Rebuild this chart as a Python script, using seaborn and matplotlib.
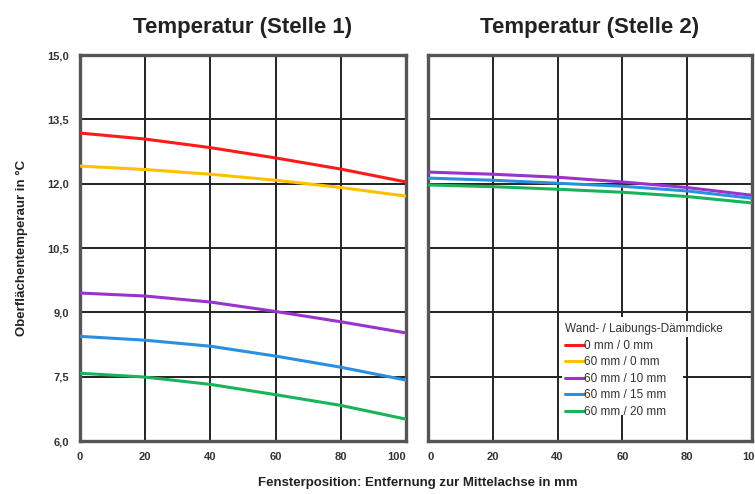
import pandas as pd
import numpy as np
import matplotlib
matplotlib.use("Agg")
import matplotlib.pyplot as plt
import seaborn as sns
from matplotlib.ticker import FuncFormatter
from matplotlib.patches import Rectangle

# Positions along the window axis (mm)
pos = [0, 20, 40, 60, 80, 100]

series = ["0 mm / 0 mm", "60 mm / 0 mm", "60 mm / 10 mm", "60 mm / 15 mm", "60 mm / 20 mm"]
colors = ["#ff1a1a", "#ffc000", "#9933cc", "#2b8fe0", "#19b35a"]

# Stelle 1
s1_red = [13.18, 13.04, 12.84, 12.60, 12.34, 12.04]
s1_yellow = [12.41, 12.33, 12.22, 12.08, 11.91, 11.71]
s1_purple = [9.45, 9.38, 9.24, 9.02, 8.78, 8.52]
s1_blue = [8.44, 8.35, 8.21, 7.98, 7.72, 7.42]
s1_green = [7.58, 7.49, 7.32, 7.08, 6.83, 6.51]

# Stelle 2 (only the insulated variants are visible)
s2_purple = [12.27, 12.22, 12.15, 12.04, 11.91, 11.73]
s2_blue = [12.13, 12.08, 12.01, 11.94, 11.83, 11.66]
s2_green = [11.97, 11.93, 11.87, 11.80, 11.70, 11.55]

yticks = [6.0, 7.5, 9.0, 10.5, 12.0, 13.5, 15.0]
xticks = [0, 20, 40, 60, 80, 100]


def to_long(values, names):
    rows = []
    for vals, name in zip(values, names):
        for x, y in zip(pos, vals):
            rows.append({"pos": x, "temp": y, "variant": name})
    return pd.DataFrame(rows)


df1 = to_long([s1_red, s1_yellow, s1_purple, s1_blue, s1_green], series)
df2 = to_long([s2_purple, s2_blue, s2_green], series[2:])

sns.set_style("white")
plt.rcParams["font.family"] = ["Liberation Sans Narrow", "Liberation Sans", "DejaVu Sans"]

fig = plt.figure(figsize=(7.55, 4.94), dpi=100)
ax1 = fig.add_axes([80 / 755, 53 / 494, 326 / 755, 386 / 494])
ax2 = fig.add_axes([428 / 755, 53 / 494, 324 / 755, 386 / 494])

palette = dict(zip(series, colors))
sns.lineplot(data=df1, x="pos", y="temp", hue="variant", palette=palette, linewidth=2.2,
             legend=False, ax=ax1, zorder=3)
sns.lineplot(data=df2, x="pos", y="temp", hue="variant", palette=palette, linewidth=2.2,
             legend=False, ax=ax2, zorder=3)

comma = FuncFormatter(lambda v, p: f"{v:.1f}".replace(".", ","))
for ax, title in [(ax1, "Temperatur (Stelle 1)"), (ax2, "Temperatur (Stelle 2)")]:
    ax.set_xlim(0, 100)
    ax.set_ylim(6, 15)
    ax.set_xticks(xticks)
    ax.set_yticks(yticks)
    ax.grid(True, color="#222222", linewidth=1.4)
    ax.set_axisbelow(True)
    for sp in ax.spines.values():
        sp.set_color("#555555")
        sp.set_linewidth(2.4)
    ax.tick_params(length=0, labelsize=8, pad=8, colors="#333333")
    for lab in ax.get_xticklabels() + ax.get_yticklabels():
        lab.set_fontweight("bold")
    ax.set_xlabel("")
    ax.set_ylabel("")
    ax.set_title(title, fontsize=16, fontweight="bold", pad=16, color="#222222")

ax1.yaxis.set_major_formatter(comma)
ax2.set_yticklabels([])

# first/last x labels sit flush with the frame like in the original
ax1.get_xticklabels()[-1].set_ha("right")
ax2.get_xticklabels()[0].set_ha("left")

ax1.set_ylabel("Oberflächentemperaur in °C", fontsize=9.5, fontweight="bold",
               labelpad=14, color="#222222")

fig.text(418 / 755, 1 - 483 / 494, "Fensterposition: Entfernung zur Mittelachse in mm",
         ha="center", va="center", fontsize=9.5, fontweight="bold", color="#222222")

# white patch behind the legend that hides part of the grid
ax2.add_patch(Rectangle((0.415, 0.067), 0.372, 0.254, transform=ax2.transAxes,
                        facecolor="white", edgecolor="none", zorder=2))

handles = [plt.Line2D([0], [0], color=c, linewidth=2.2) for c in colors]
leg = ax2.legend(handles, series, title="Wand- / Laibungs-Dämmdicke", loc="upper left",
                 bbox_to_anchor=(0.423, 0.305), frameon=False, fontsize=8.5, title_fontsize=8.5,
                 handlelength=1.6, handletextpad=0.0, labelspacing=0.38, borderpad=0.0,
                 borderaxespad=0.0)
leg._legend_box.align = "left"
leg.set_zorder(5)
for t in leg.get_texts():
    t.set_color("#333333")
leg.get_title().set_color("#333333")
leg.get_title().set_bbox(dict(facecolor="white", edgecolor="none", pad=1.5))

fig.savefig("out.png", dpi=100)
